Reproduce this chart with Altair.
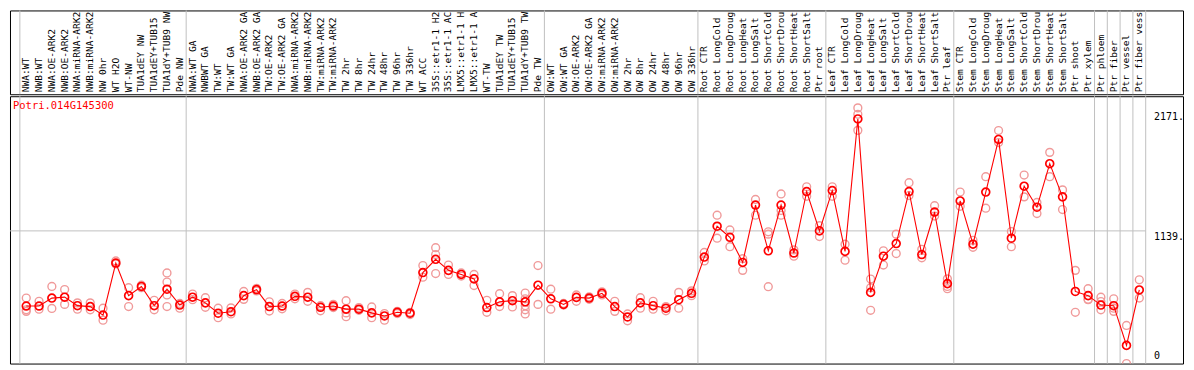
import altair as alt
import pandas as pd

gene_id = "Potri.014G145300"

labels = [
    "NWA:WT", "NWB:WT", "NWA:OE-ARK2", "NWB:OE-ARK2", "NWA:miRNA-ARK2", "NWB:miRNA-ARK2",
    "NW 0hr", "WT H2O", "WT-NW", "TUA1dEY NW", "TUA1dEY+TUB15", "TUA1dY+TUB9 NW", "Pde NW",
    "NWA:WT GA", "NWBWT GA", "TW:WT", "TW:WT GA", "NWA:OE-ARK2 GA", "NWB:OE-ARK2 GA",
    "TW:OE-ARK2", "TW:OE-ARK2 GA", "NWA:miRNA-ARK2", "NWB:miRNA-ARK2", "TW:miRNA-ARK2",
    "TW:miRNA-ARK2", "TW 2hr", "TW 8hr", "TW 24hr", "TW 48hr", "TW 96hr", "TW 336hr",
    "WT ACC", "35S::etr1-1 H2", "35S::etr1-1 AC", "LMX5::etr1-1 H", "LMX5::etr1-1 A",
    "WT-TW", "TUA1dEY TW", "TUA1dEY+TUB15", "TUA1dY+TUB9 TW", "Pde TW",
    "OW:WT", "OW:WT GA", "OW:OE-ARK2", "OW:OE-ARK2 GA", "OW:miRNA-ARK2", "OW:miRNA-ARK2",
    "OW 2hr", "OW 8hr", "OW 24hr", "OW 48hr", "OW 96hr", "OW 336hr",
    "Root CTR", "Root LongCold", "Root LongDroug", "Root LongHeat", "Root LongSalt",
    "Root ShortCold", "Root ShortDrou", "Root ShortHeat", "Root ShortSalt", "Ptr root",
    "Leaf CTR", "Leaf LongCold", "Leaf LongDroug", "Leaf LongHeat", "Leaf LongSalt",
    "Leaf ShortCold", "Leaf ShortDrou", "Leaf ShortHeat", "Leaf ShortSalt", "Ptr leaf",
    "Stem CTR", "Stem LongCold", "Stem LongDroug", "Stem LongHeat", "Stem LongSalt",
    "Stem ShortCold", "Stem ShortDrou", "Stem ShortHeat", "Stem ShortSalt", "Ptr shoot",
    "Ptr xylem", "Ptr phloem", "Ptr fiber", "Ptr vessel", "Ptr fiber vess",
]

mean_values = [
    494, 494, 562, 570, 497, 489, 416, 863, 583, 662, 497, 638, 502,
    570, 521, 432, 445, 583, 635, 489, 494, 577, 570, 483, 494, 467, 467, 435, 409, 440,
    432, 781, 895, 800, 765, 727, 481, 530, 540, 530, 673,
    556, 508, 568, 562, 603, 489, 400, 521, 497, 475, 548, 603,
    914, 1179, 1084, 868, 1361, 968, 1361, 949, 1477, 1139,
    1485, 963, 2100, 611, 922, 1030, 1477, 936, 1301, 686,
    1396, 1025, 1472, 1924, 1076, 1523, 1342, 1716, 1431, 619, 583,
    502, 497, 156, 632,
]

replicate_values = [
    [562, 461, 448], [534, 467], [662, 473], [635, 508], [521, 467], [521, 461],
    [475, 372], [881, 855], [651, 489], [673, 651], [543, 461], [778, 700, 589, 489],
    [516, 475],
    [597, 548], [565, 483], [475, 394], [478, 426], [619, 551], [646, 624], [530, 451],
    [516, 470], [597, 556], [611, 534], [497, 453], [508, 481], [540, 435, 402],
    [481, 457], [486, 394], [429, 372], [448, 429], [440, 421], [841, 741],
    [995, 936, 773], [846, 765], [778, 751], [765, 670], [543, 440], [600, 489],
    [583, 486], [605, 556, 497, 461, 426], [841, 508],
    [638, 467], [516, 502], [589, 534], [573, 552], [616, 589], [534, 448], [426, 367],
    [565, 475], [534, 467], [489, 453], [611, 475], [624, 583],
    [954, 881], [1274, 1076], [1147, 1003], [900, 800], [1409, 1274], [1131, 1111, 660],
    [1456, 1314, 1274], [976, 922], [1517, 1436], [1184, 1090],
    [1517, 1436], [1025, 887], [2195, 2140, 2002], [725, 651, 457], [968, 846],
    [1111, 944], [1553, 1442], [981, 908], [1355, 1266], [727, 643, 662],
    [1472, 1350], [1058, 998], [1604, 1334], [2000, 1897], [1133, 1003], [1618, 1431],
    [1383, 1288], [1813, 1604], [1491, 1322], [800, 440], [643, 551, 548],
    [570, 461, 532], [556, 448, 475], [327, 0], [719, 562],
]

group_sizes = [13, 28, 12, 10, 10, 11, 1, 1, 1, 1]
axis_label_text = ["2171.", "1139.", "0"]
axis_label_values = [2171, 1139, 0]
gridline_values = [1139]

# ---- layout ----
W = 1176
HEADER_H = 84
PLOT_H = 268
band_px = 12.826
left_px = 9.9
x_min = -0.5 - left_px / band_px
x_max = x_min + W / band_px
n = len(labels)

xscale = alt.Scale(domain=[x_min, x_max], nice=False, zero=False)
yscale = alt.Scale(domain=[0, 2295], nice=False, zero=False)
MONO = "DejaVu Sans Mono"

# ---- data tables ----
lab_df = pd.DataFrame({"i": list(range(n)), "label": labels, "mean": mean_values})
rep_rows = []
for i, vals in enumerate(replicate_values):
    for v in vals:
        rep_rows.append({"i": i, "value": v})
rep_df = pd.DataFrame(rep_rows)

bounds = [-0.5]
acc = 0
for g in group_sizes:
    acc += g
    bounds.append(acc - 0.5)
sep_df = pd.DataFrame({"b": bounds})
grid_df = pd.DataFrame({"y": gridline_values, "x0": [x_min] * len(gridline_values),
                        "x1": [n - 0.5] * len(gridline_values)})
ylab_df = pd.DataFrame({"v": axis_label_values, "t": axis_label_text})
title_df = pd.DataFrame({"t": [gene_id]})

sep = alt.Chart(sep_df).mark_rule(color="#c0c0c0", strokeWidth=1).encode(
    x=alt.X("b:Q", scale=xscale, axis=None)
)

header_text = alt.Chart(lab_df).mark_text(
    angle=270, align="left", baseline="middle", font=MONO, fontSize=9.6,
    color="black"
).encode(
    x=alt.X("i:Q", scale=xscale, axis=None),
    y=alt.value(HEADER_H - 2),
    text="label:N",
)

header = alt.layer(sep, header_text).properties(width=W, height=HEADER_H)

grid = alt.Chart(grid_df).mark_rule(color="#c0c0c0", strokeWidth=1).encode(
    x=alt.X("x0:Q", scale=xscale, axis=None),
    x2="x1:Q",
    y=alt.Y("y:Q", scale=yscale, axis=None),
)

reps = alt.Chart(rep_df).mark_point(
    shape="circle", filled=False, color="#f09a9a", size=62, strokeWidth=1.4,
    opacity=1, clip=True
).encode(
    x=alt.X("i:Q", scale=xscale, axis=None),
    y=alt.Y("value:Q", scale=yscale, axis=None),
)

line = alt.Chart(lab_df).mark_line(color="#ff0000", strokeWidth=1.1).encode(
    x=alt.X("i:Q", scale=xscale, axis=None),
    y=alt.Y("mean:Q", scale=yscale, axis=None),
)

means = alt.Chart(lab_df).mark_point(
    shape="circle", filled=False, color="#ff0000", size=62, strokeWidth=1.7, opacity=1
).encode(
    x=alt.X("i:Q", scale=xscale, axis=None),
    y=alt.Y("mean:Q", scale=yscale, axis=None),
)

ylab_top = alt.Chart(ylab_df).transform_filter("datum.v > 0").mark_text(
    align="left", baseline="top", font=MONO, fontSize=10, color="black", dy=1
).encode(
    x=alt.value(W - 29),
    y=alt.Y("v:Q", scale=yscale, axis=None),
    text="t:N",
)
ylab_zero = alt.Chart(ylab_df).transform_filter("datum.v == 0").mark_text(
    align="left", baseline="bottom", font=MONO, fontSize=10, color="black", dy=-3
).encode(
    x=alt.value(W - 29),
    y=alt.Y("v:Q", scale=yscale, axis=None),
    text="t:N",
)

title = alt.Chart(title_df).mark_text(
    align="left", baseline="middle", font=MONO, fontSize=10.5, color="#ff0000"
).encode(
    x=alt.value(3),
    y=alt.value(10),
    text="t:N",
)

plot = alt.layer(sep, grid, reps, line, means, ylab_top, ylab_zero, title).properties(
    width=W, height=PLOT_H
)

chart = alt.vconcat(header, plot, spacing=0).configure_view(
    stroke="black", strokeWidth=1
).properties(
    padding={"left": 1, "top": 1, "right": 1, "bottom": 1},
    background="white",
)

chart.save("out.html", embed_options={"renderer": "svg", "actions": False})
